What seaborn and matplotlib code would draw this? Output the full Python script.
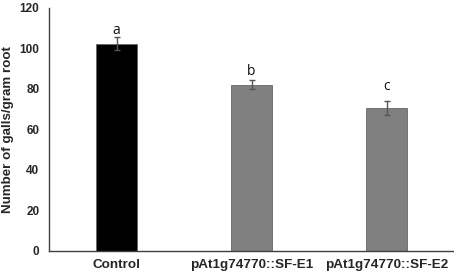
import matplotlib
matplotlib.use("Agg")
import matplotlib.pyplot as plt
import seaborn as sns
import pandas as pd

# values
groups = ["Control", "pAt1g74770::SF-E1", "pAt1g74770::SF-E2"]
galls = [102.2, 82.0, 70.4]
errors = [3.1, 2.2, 3.6]
letters = ["a", "b", "c"]
letter_y = [107.2, 86.6, 79.2]
bar_colors = ["#000000", "#808080", "#808080"]

df = pd.DataFrame({"group": groups, "galls": galls})

sns.set_style("white")
plt.rcParams["font.family"] = ["Liberation Sans", "DejaVu Sans"]

fig = plt.figure(figsize=(4.54, 2.76), dpi=100)
ax = fig.add_axes([49 / 454, 25.3 / 276, 1 - 49 / 454, 243 / 276])

sns.barplot(data=df, x="group", y="galls", hue="group", palette=bar_colors,
            width=0.31, legend=False, ax=ax, edgecolor="#666666", linewidth=0.6)
ax.errorbar(range(len(groups)), galls, yerr=errors, fmt="none",
            ecolor="#555555", elinewidth=1.0, capsize=2.5, capthick=1.0)

# significance letters
for i, t in enumerate(letters):
    ax.text(i, letter_y[i], t, ha="center", va="baseline", fontsize=10,
            family=["Open Sans", "DejaVu Sans"], color="#111111")

ax.set_xlim(-0.5, 2.5)
ax.set_ylim(0, 120)
ax.set_yticks(range(0, 121, 20))
ax.set_xlabel("")
ax.set_ylabel("Number of galls/gram root", fontsize=9.6, fontweight="bold")
ax.yaxis.set_label_coords(-0.087, 0.497)
ax.tick_params(axis="both", length=0)
ax.tick_params(axis="x", pad=6, labelsize=9.7)
ax.tick_params(axis="y", pad=7, labelsize=8.5)
for lab in ax.get_xticklabels() + ax.get_yticklabels():
    lab.set_fontweight("bold")
for s in ["top", "right"]:
    ax.spines[s].set_visible(False)
for s in ["left", "bottom"]:
    ax.spines[s].set_color("#404040")
    ax.spines[s].set_linewidth(1.0)

fig.savefig("out.png", dpi=100)
